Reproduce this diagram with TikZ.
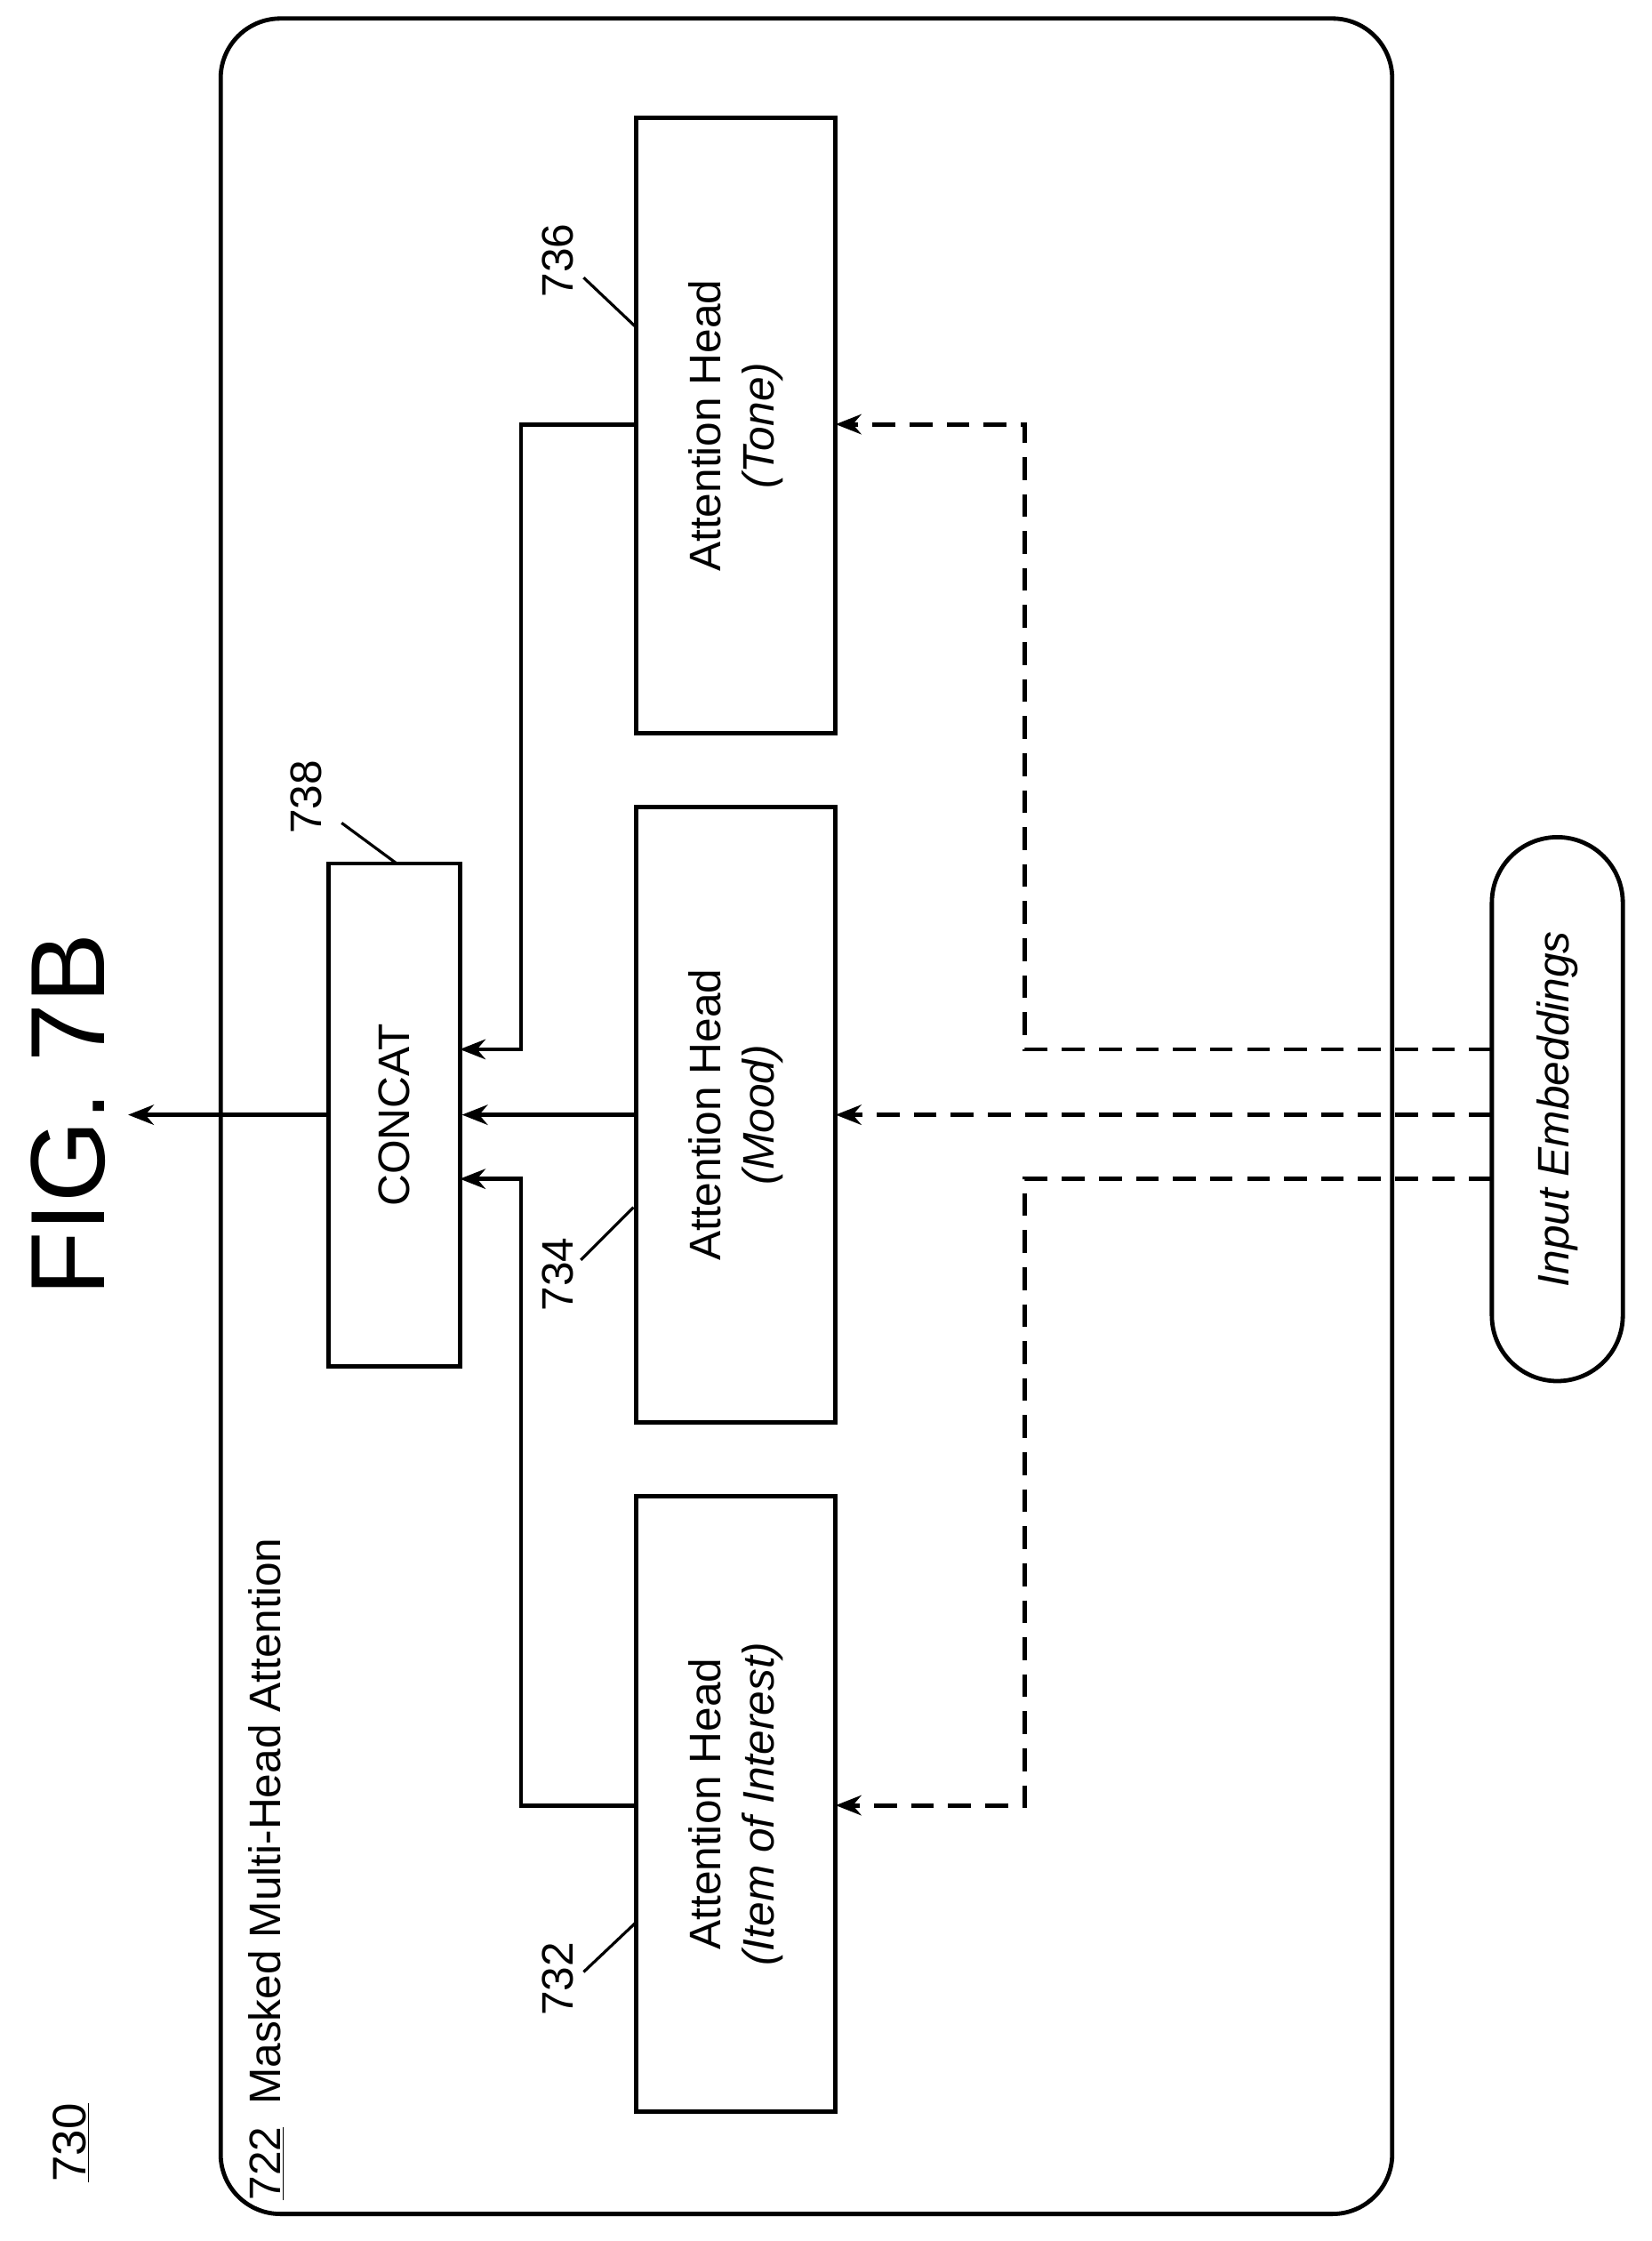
\documentclass[tikz,border=0pt]{standalone}
\usepackage{fontspec}
\setmainfont{Liberation Sans}
\usetikzlibrary{arrows.meta}
\begin{document}
\begin{tikzpicture}[x=1pt,y=-1pt,line width=3pt,
  box/.style={draw,minimum width=432pt,minimum height=140pt,rotate=90,align=center,font=\fontsize{31}{38}\selectfont,inner sep=0pt},
  lab/.style={rotate=90,font=\fontsize{31}{34}\selectfont,inner sep=1pt},
  arr/.style={-{Stealth[length=18pt,width=14pt]}},
  dsh/.style={dash pattern=on 16pt off 10pt}]
\useasboundingbox (0,0) rectangle (1160,1574);
\draw[rounded corners=42pt] (155,13) rectangle (978,1555);
\node[lab,font=\fontsize{33}{36}\selectfont] (n730) at (50,1505) {\underline{730}};
\node[lab,anchor=west] (title) at (187,1548) {\underline{722}\enspace Masked Multi-Head Attention};
\node[rotate=90,font=\fontsize{74}{80}\selectfont] (fig) at (48,783) {FIG. 7B};
\node[box] (tone) at (517,299) {Attention Head\\\textit{(Tone)}};
\node[box] (mood) at (517,783) {Attention Head\\\textit{(Mood)}};
\node[box] (item) at (517,1267) {Attention Head\\\textit{(Item of Interest)}};
\node[draw,rotate=90,minimum width=353pt,minimum height=92pt,inner sep=0pt,font=\fontsize{31}{34}\selectfont] (concat) at (277,783) {CONCAT};
\node[draw,rounded corners=46pt,rotate=90,minimum width=382pt,minimum height=92pt,inner sep=0pt,font=\fontsize{31}{34}\selectfont\itshape] (ie) at (1094,779) {Input Embeddings};
\coordinate (out) at (90,783);
\draw[arr] (concat.north) -- (out);
\draw[arr] (tone.north |- 0,298) -| (366,737) -- (323,737);
\draw[arr] (mood.north) -- (concat.south);
\draw[arr] (item.north |- 0,1268) -| (366,828) -- (323,828);
\draw[arr,dsh] (1048,737) -| (720,298) -- (587,298);
\draw[arr,dsh] (1048,783) -- (587,783);
\draw[arr,dsh] (1048,828) -| (720,1268) -- (587,1268);
\node[lab] (l736) at (392,183) {736};
\draw[line width=2pt] (410,195) -- (447,230);
\node[lab] (l738) at (215,560) {738};
\draw[line width=2pt] (240,578) -- (278,606);
\node[lab] (l734) at (392,895) {734};
\draw[line width=2pt] (408,885) -- (445,848);
\node[lab] (l732) at (392,1390) {732};
\draw[line width=2pt] (410,1385) -- (447,1350);
\end{tikzpicture}
\end{document}
